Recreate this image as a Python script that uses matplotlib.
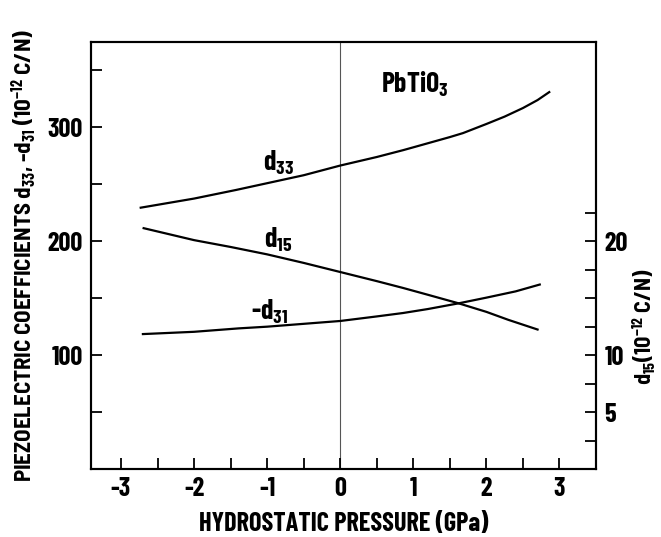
import numpy as np
import matplotlib
matplotlib.use('Agg')
import matplotlib.pyplot as plt

FONT = 'Barlow Condensed'
SEMI = 'Barlow Semi Condensed'
plt.rcParams['font.family'] = [FONT, 'DejaVu Sans']
plt.rcParams['font.weight'] = 'bold'
plt.rcParams['axes.labelweight'] = 'bold'
plt.rcParams['mathtext.fontset'] = 'custom'
plt.rcParams['mathtext.rm'] = FONT + ':bold'
plt.rcParams['mathtext.it'] = FONT + ':bold'
plt.rcParams['mathtext.bf'] = FONT + ':bold'

# values (d15 in left-axis units, i.e. x10)
p_d33 = [-2.73, -2.0, -1.43, -1.0, -0.5, 0.0, 0.5, 0.86, 1.0, 1.5, 1.68, 2.0, 2.25, 2.5, 2.7, 2.86]
d33 = [229.5, 237.5, 245.0, 251.0, 258.0, 266.5, 274.0, 280.0, 282.5, 291.5, 295.0, 303.0, 309.5, 317.0, 324.0, 331.0]

p_d15 = [-2.69, -2.0, -1.5, -1.0, -0.5, 0.0, 0.5, 0.86, 1.2, 1.62, 2.0, 2.3, 2.7]
d15 = [211.5, 201.0, 195.0, 188.5, 181.0, 173.0, 165.0, 159.0, 153.0, 145.5, 138.0, 131.0, 122.5]

p_d31 = [-2.70, -2.0, -1.39, -1.0, -0.5, 0.0, 0.5, 0.86, 1.2, 1.62, 2.0, 2.4, 2.73]
d31 = [118.5, 120.5, 123.5, 125.0, 127.5, 130.0, 134.0, 137.0, 140.5, 145.5, 150.5, 156.0, 162.0]

fig = plt.figure(figsize=(6.61, 5.37), dpi=100)
ax = fig.add_axes([0.1377, 0.1266, 0.7640, 0.7952])

ax.axvline(0, color='#555555', lw=0.8, zorder=1)
ax.plot(p_d33, d33, color='black', lw=1.6)
ax.plot(p_d15, d15, color='black', lw=1.6)
ax.plot(p_d31, d31, color='black', lw=1.6)

ax.text(-0.85, 269, r'd$_{33}$', fontsize=20, ha='center', va='center')
ax.text(-0.85, 201, r'd$_{15}$', fontsize=20, ha='center', va='center')
ax.text(-0.96, 138, r'-d$_{31}$', fontsize=20, ha='center', va='center')
ax.text(1.02, 338, r'PbTiO$_3$', fontsize=20, ha='center', va='center')

ax.set_xlim(-3.41, 3.42)
ax.set_ylim(0, 375)
ax.set_xticks(np.arange(-3, 3.1, 1))
ax.set_xticks(np.arange(-3, 3.6, 0.5), minor=True)
ax.set_xticklabels(['-3', '-2', '-1', '0', '1', '2', '3'])
ax.set_yticks([100, 200, 300])
ax.set_yticks(np.arange(50, 375, 50), minor=True)
ax.tick_params(axis='both', which='both', direction='in', length=8, width=1.3,
               labelsize=19, pad=6)
ax.tick_params(axis='x', which='both', top=False)
ax.tick_params(axis='y', which='both', right=False)
for s in ax.spines.values():
    s.set_linewidth(1.5)

ax.set_xlabel('HYDROSTATIC PRESSURE (GPa)', fontsize=19, labelpad=8)
ax.set_ylabel(r'PIEZOELECTRIC COEFFICIENTS d$_{33}$, -d$_{31}$ (10$^{-12}$ C/N)',
              fontsize=16.5, family=SEMI)
ax.yaxis.set_label_coords(-0.105, 0.5)

ax2 = ax.twinx()
ax2.set_ylim(0, 37.5)
rticks = np.arange(2.5, 23, 2.5)
ax2.set_yticks(rticks)
ax2.set_yticklabels(['5' if t == 5 else '10' if t == 10 else '20' if t == 20 else '' for t in rticks])
ax2.tick_params(axis='y', direction='in', length=8, width=1.3, labelsize=19, pad=6)
ax2.set_ylabel(r'd$_{15}$(10$^{-12}$ C/N)', fontsize=16, family=SEMI)
ax2.yaxis.set_label_coords(1.068, 0.333)
for s in ax2.spines.values():
    s.set_linewidth(1.5)

fig.savefig('out.png', dpi=100)
